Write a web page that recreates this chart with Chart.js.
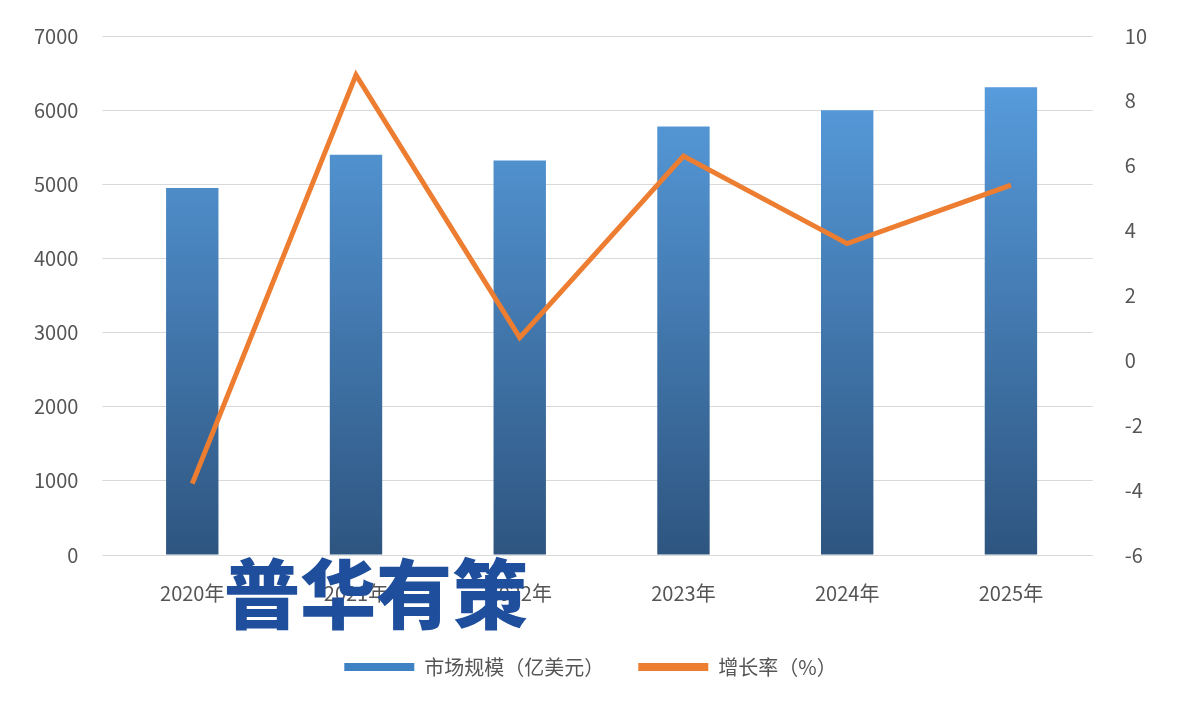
<!DOCTYPE html>
<html><head><meta charset="utf-8">
<script src="https://cdn.jsdelivr.net/npm/chart.js@4"></script>
<style>
body{margin:0;background:#fff;font-family:"Noto Sans CJK SC",sans-serif}
#wrap{position:relative;width:1191px;height:715px}
#mark{position:absolute;left:224px;top:540px;font-size:76px;line-height:100px;font-weight:900;color:#1f4e9c;letter-spacing:0px}
</style></head><body>
<div id="wrap"><canvas id="c" width="1191" height="715"></canvas><div id="mark">普华有策</div></div>
<script>
const categories = ['2020年','2021年','2022年','2023年','2024年','2025年'];
const marketSize = [4950, 5400, 5320, 5780, 6000, 6310];
const growthRate = [-3.8, 8.8, 0.7, 6.3, 3.6, 5.4];

const ctx = document.getElementById('c').getContext('2d');
function barGradient(context) {
    const area = context.chart.chartArea;
    if (!area) return '#4a8fd6';
    const g = context.chart.ctx.createLinearGradient(0, area.top, 0, area.bottom);
    g.addColorStop(0, '#5ba3e6');
    g.addColorStop(1, '#2e5580');
    return g;
}
const font = {family: '"Noto Sans CJK SC", sans-serif', size: 20};
new Chart(ctx, {
    data: {
        labels: categories,
        datasets: [
            {type: 'line', label: '增长率（%）', data: growthRate, yAxisID: 'y1',
             borderColor: '#ed7d31', backgroundColor: '#ed7d31', borderWidth: 5, pointRadius: 0, tension: 0, order: 0},
            {type: 'bar', label: '市场规模（亿美元）', data: marketSize, yAxisID: 'y',
             backgroundColor: barGradient, barPercentage: 0.32, categoryPercentage: 1, order: 1}
        ]
    },
    options: {
        responsive: false, animation: false,
        layout: {padding: {left: 10, right: 20, top: 24, bottom: 28}},
        plugins: {
            legend: {position: 'bottom', reverse: true,
                labels: {font: font, color: '#555', boxWidth: 70, boxHeight: 8, padding: 34,
                    generateLabels: chart => Chart.defaults.plugins.legend.labels.generateLabels(chart).map(l => {
                        l.fillStyle = l.text.startsWith('增') ? '#ed7d31' : '#3f82c4';
                        l.strokeStyle = l.fillStyle; l.lineWidth = 0;
                        return l;
                    })}},
            tooltip: {enabled: false}
        },
        scales: {
            x: {grid: {display: false}, border: {color: '#d9d9d9'},
                ticks: {font: font, color: '#555', padding: 18}},
            y: {min: 0, max: 7000, ticks: {stepSize: 1000, font: font, color: '#555', padding: 24, callback: v => String(v)},
                grid: {color: '#d9d9d9'}, border: {display: false}},
            y1: {position: 'right', min: -6, max: 10, ticks: {stepSize: 2, font: font, color: '#555', padding: 24},
                grid: {display: false}, border: {display: false}}
        }
    }
});
</script>
</body></html>
